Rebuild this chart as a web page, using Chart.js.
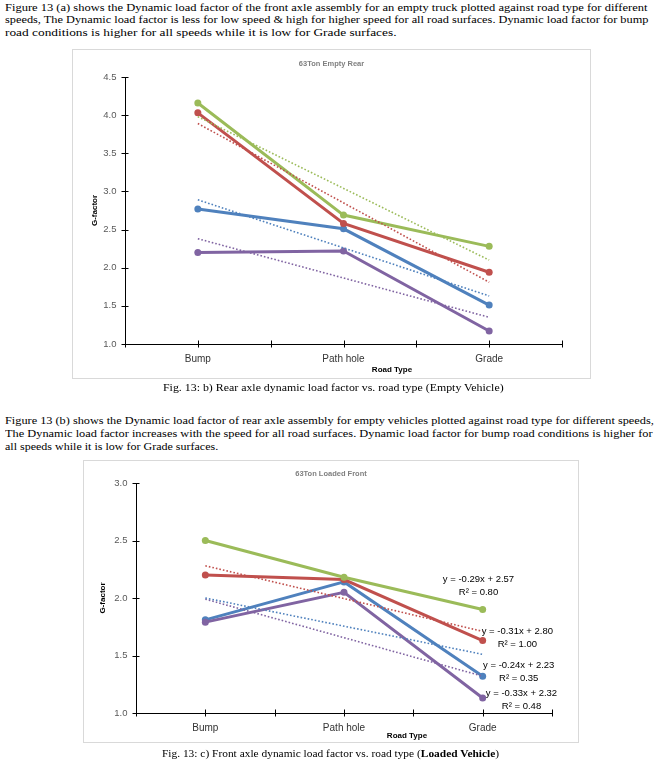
<!DOCTYPE html>
<html lang="en">
<head>
<meta charset="UTF-8" />
<title>Fig. 13 Dynamic load factor vs. road type</title>
<style>
  body {
    margin: 0;
    width: 666px;
    height: 763px;
    position: relative;
    overflow: hidden;
    background: #fff;
    color: #000;
    font-family: 'Liberation Serif', 'Times New Roman', serif;
  }
  .line {
    position: absolute;
    white-space: nowrap;
    font-size: 11px;
    line-height: 14px;
    transform-origin: 0 50%;
  }
  .chart-box {
    position: absolute;
  }
  .frame {
    position: absolute;
    border: 1px solid #d9d9d9;
    box-sizing: border-box;
    pointer-events: none;
  }
</style>
</head>
<body>

<div class="line" data-w="643" style="left:5px;top:0px">Figure 13 (a) shows the Dynamic load factor of the front axle assembly for an empty truck plotted against road type for different</div>
<div class="line" data-w="643" style="left:5px;top:12px">speeds, The Dynamic load factor is less for low speed &amp; high for higher speed for all road surfaces. Dynamic load factor for bump</div>
<div class="line" data-w="392" style="left:5px;top:25px">road conditions is higher for all speeds while it is low for Grade surfaces.</div>

<div class="chart-box" style="left:72px;top:49px;width:519px;height:330px"><canvas id="rearChart" width="519" height="330"></canvas></div>
<div class="frame" style="left:72px;top:49px;width:519px;height:330px"></div>

<div class="line" data-w="341" data-cx="333" style="top:380px">Fig. 13: b) Rear axle dynamic load factor vs. road type (Empty Vehicle)</div>

<div class="line" data-w="649" style="left:5px;top:413px">Figure 13 (b) shows the Dynamic load factor of rear axle assembly for empty vehicles plotted against road type for different speeds,</div>
<div class="line" data-w="648" style="left:5px;top:426px">The Dynamic load factor increases with the speed for all road surfaces. Dynamic load factor for bump road conditions is higher for</div>
<div class="line" data-w="213" style="left:5px;top:439px">all speeds while it is low for Grade surfaces.</div>

<div class="chart-box" style="left:83px;top:460px;width:496px;height:283px"><canvas id="frontChart" width="496" height="283"></canvas></div>
<div class="frame" style="left:83px;top:460px;width:496px;height:283px"></div>

<div class="line" data-w="337" data-cx="330" style="top:746px">Fig. 13: c) Front axle dynamic load factor vs. road type (<b>Loaded Vehicle</b>)</div>

<script src="https://cdn.jsdelivr.net/npm/chart.js"></script>
<script>
  const roadTypes = ['Bump', 'Path hole', 'Grade'];
  const blue = '#4F81BD', red = '#C0504D', green = '#9BBB59', purple = '#8064A2';

  // 63Ton Empty Rear
  const rearBlue = [2.77, 2.51, 1.51];
  const rearRed = [4.03, 2.58, 1.94];
  const rearGreen = [4.16, 2.69, 2.28];
  const rearPurple = [2.20, 2.22, 1.17];
  // dotted trendlines: value at Bump, value at Grade
  const rearBlueTrend = [2.89, 1.63];
  const rearRedTrend = [3.89, 1.81];
  const rearGreenTrend = [3.98, 2.10];
  const rearPurpleTrend = [2.38, 1.35];

  // 63Ton Loaded Front
  const frontBlue = [1.81, 2.14, 1.32];
  const frontRed = [2.20, 2.16, 1.63];
  const frontGreen = [2.50, 2.18, 1.90];
  const frontPurple = [1.79, 2.05, 1.13];
  const frontBlueTrend = [2.00, 1.51];
  const frontRedTrend = [2.28, 1.71];
  const frontPurpleTrend = [1.99, 1.32];

  // trendline equations shown on the loaded front chart
  const frontEquations = ['y = -0.29x + 2.57', 'y = -0.31x + 2.80', 'y = -0.24x + 2.23', 'y = -0.33x + 2.32'];
  const frontRSquared = ['R² = 0.80', 'R² = 1.00', 'R² = 0.35', 'R² = 0.48'];
  const frontEqX = [2.97, 3.25, 3.26, 3.28];
  const frontEqY = [2.165, 1.713, 1.417, 1.174];

  // squeeze each serif text line to its width on the scanned page
  document.querySelectorAll('.line').forEach(el => {
    const s = +el.dataset.w / el.offsetWidth;
    el.style.transform = `scaleX(${s})`;
    if (el.dataset.cx) el.style.left = (+el.dataset.cx - el.dataset.w / 2) + 'px';
  });

  Chart.defaults.font.family = "'Liberation Sans', Arial, sans-serif";
  Chart.defaults.animation = false;

  const extras = {
    id: 'extras',
    afterDraw(chart, args, opts) {
      const { ctx, chartArea: a, scales: { x, y } } = chart;
      ctx.save();
      ctx.strokeStyle = '#000';
      ctx.lineWidth = 1;
      x.ticks.forEach(t => {
        const px = Math.round(x.getPixelForValue(t.value)) + 0.5;
        ctx.beginPath();
        ctx.moveTo(px, a.bottom - 3.5);
        ctx.lineTo(px, a.bottom + 3.5);
        ctx.stroke();
      });
      y.ticks.forEach(t => {
        const py = Math.round(y.getPixelForValue(t.value)) + 0.5;
        ctx.beginPath();
        ctx.moveTo(a.left - 3.5, py);
        ctx.lineTo(a.left + 3.5, py);
        ctx.stroke();
      });

      ctx.textAlign = 'center';
      ctx.textBaseline = 'middle';
      ctx.fillStyle = '#808080';
      ctx.font = "bold 7.5px 'Liberation Sans'";
      ctx.fillText(opts.title, chart.width / 2, opts.titleY);

      ctx.fillStyle = '#000';
      ctx.font = "bold 8px 'Liberation Sans'";
      ctx.fillText('Road Type', opts.xTitleX, opts.xTitleY);
      ctx.save();
      ctx.translate(opts.yTitleX, (a.top + a.bottom) / 2);
      ctx.rotate(-Math.PI / 2);
      ctx.fillText('G-factor', 0, 0);
      ctx.restore();

      if (opts.eq) {
        ctx.font = "9.5px 'Liberation Sans'";
        ctx.fillStyle = '#000';
        opts.eq.forEach((txt, i) => {
          const px = x.getPixelForValue(opts.eqX[i]);
          const py = y.getPixelForValue(opts.eqY[i]);
          ctx.fillText(txt, px, py);
          ctx.fillText(opts.r2[i], px, py + 13);
        });
      }
      ctx.restore();
    }
  };

  function series(values, color, order) {
    return {
      data: values.map((v, i) => ({ x: i + 1, y: v })),
      borderColor: color,
      backgroundColor: color,
      borderWidth: 3,
      pointRadius: 3.5,
      pointBorderWidth: 0,
      pointBackgroundColor: color,
      order: order
    };
  }

  function trend(ends, color) {
    return {
      data: [{ x: 1, y: ends[0] }, { x: roadTypes.length, y: ends[1] }],
      borderColor: color,
      borderWidth: 1.6,
      borderDash: [1.6, 2],
      pointRadius: 0,
      order: 0
    };
  }

  function makeChart(id, datasets, yMax, layout, extraOpts) {
    return new Chart(document.getElementById(id), {
      type: 'line',
      data: { datasets: datasets },
      options: {
        responsive: false,
        layout: { padding: { left: 0, top: layout.top, right: layout.right, bottom: 0 } },
        plugins: { legend: { display: false }, tooltip: { enabled: false }, extras: extraOpts },
        scales: {
          x: {
            type: 'linear',
            min: 0.5,
            max: 3.5,
            grid: { display: false, drawTicks: false },
            border: { display: true, color: '#000', width: 1 },
            ticks: {
              stepSize: 0.5,
              autoSkip: false,
              maxRotation: 0,
              minRotation: 0,
              padding: 9,
              color: '#333',
              font: { size: 10 },
              callback: v => Number.isInteger(v) ? roadTypes[v - 1] : ''
            },
            afterFit: s => { s.height = layout.xh; }
          },
          y: {
            min: 1,
            max: yMax,
            grid: { display: false, drawTicks: false },
            border: { display: true, color: '#000', width: 1 },
            ticks: {
              stepSize: 0.5,
              padding: 8.5,
              color: '#595959',
              font: { size: 9.5 },
              callback: v => v.toFixed(1)
            },
            afterFit: s => { s.width = 53; }
          }
        }
      },
      plugins: [extras]
    });
  }

  makeChart('rearChart', [
    trend(rearBlueTrend, blue),
    trend(rearRedTrend, red),
    trend(rearGreenTrend, green),
    trend(rearPurpleTrend, purple),
    series(rearBlue, blue, 4),
    series(rearRed, red, 3),
    series(rearGreen, green, 2),
    series(rearPurple, purple, 1)
  ], 4.5, { top: 28, right: 29, xh: 35 }, {
    title: '63Ton Empty Rear', titleY: 15, xTitleX: 320, xTitleY: 321, yTitleX: 23
  });

  makeChart('frontChart', [
    trend(frontBlueTrend, blue),
    trend(frontRedTrend, red),
    trend(frontPurpleTrend, purple),
    series(frontBlue, blue, 4),
    series(frontRed, red, 3),
    series(frontGreen, green, 2),
    series(frontPurple, purple, 1)
  ], 3.0, { top: 23, right: 27, xh: 30 }, {
    title: '63Ton Loaded Front', titleY: 14, xTitleX: 324, xTitleY: 276, yTitleX: 20,
    eq: frontEquations, r2: frontRSquared, eqX: frontEqX, eqY: frontEqY
  });
</script>
</body>
</html>
